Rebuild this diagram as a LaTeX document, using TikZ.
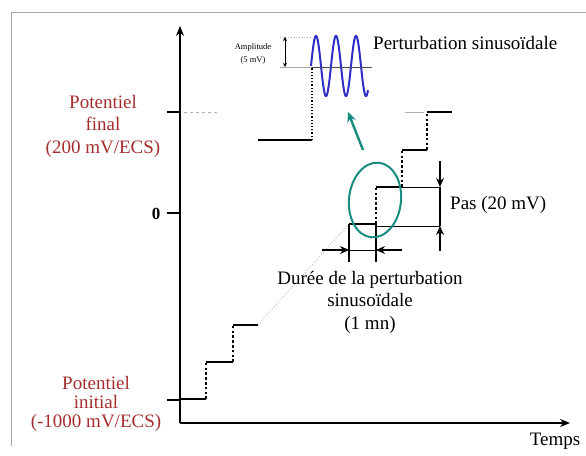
\documentclass[tikz,border=0pt]{standalone}
\usepackage{fontspec}
\setmainfont{Liberation Serif}
\usetikzlibrary{arrows.meta,shapes.geometric}
\definecolor{potred}{RGB}{165,45,45}
\definecolor{tealc}{RGB}{25,140,128}
\definecolor{waveblue}{RGB}{45,45,200}
\begin{document}
\begin{tikzpicture}[x=1pt,y=-1pt,
  lbl/.style={font=\fontsize{19}{22.5}\selectfont, inner sep=0pt, align=center},
  redlbl/.style={lbl, text=potred},
  steph/.style={line width=2.6pt},
  stepv/.style={line width=2.6pt, dash pattern=on 2.6pt off 2.2pt},
  fine/.style={line width=0.7pt},
  ax/.style={line width=1.4pt},
  blackarrow/.style={line width=1.2pt, -{Stealth[length=9pt,width=8pt]}},
]
\useasboundingbox (0,0) rectangle (586,455);
\draw[gray!70, line width=1pt] (11,446) -- (11,12) -- (586,12);

% axes
\coordinate (O) at (180,423);
\coordinate (ytop) at (180,26);
\coordinate (xend) at (570,423);
\draw[ax, -{Stealth[length=10pt,width=8pt]}] (O) -- (ytop);
\draw[ax, -{Stealth[length=10pt,width=8pt]}] (O) -- (xend);
\node[lbl] (temps) at (555,441) {Temps};

% ticks
\coordinate (tiA) at (167,400); \coordinate (tiB) at (180,400);
\coordinate (tzA) at (167,213); \coordinate (tzB) at (180,213);
\coordinate (tfA) at (167,112); \coordinate (tfB) at (180,112);
\draw[ax] (tiA) -- (tiB);
\draw[ax] (tzA) -- (tzB);
\draw[ax] (tfA) -- (tfB);
\node[lbl, font=\fontsize{17}{20}\selectfont\bfseries] (zero) at (156,214) {0};

% labels
\node[redlbl] (pfinal) at (103,126) {Potentiel\\final\\(200 mV/ECS)};
\node[redlbl, font=\fontsize{19}{19}\selectfont] (pinit) at (96,404) {Potentiel\\initial\\(-1000 mV/ECS)};

% lower steps
\coordinate (s0) at (180,399);
\coordinate (s1) at (206,399);
\coordinate (s1u) at (206,362);
\coordinate (s2) at (233,362);
\coordinate (s2u) at (233,325);
\coordinate (s3) at (258,325);
\draw[steph] (s0) -- (s1);
\draw[stepv] (s1) -- (s1u);
\draw[steph] (s1u) -- (s2);
\draw[stepv] (s2) -- (s2u);
\draw[steph] (s2u) -- (s3);

% upper steps
\coordinate (c0) at (349,224);
\coordinate (c1) at (376,224);
\coordinate (c1u) at (376,187);
\coordinate (c2) at (402,187);
\coordinate (c2u) at (402,150);
\coordinate (c3) at (427,150);
\coordinate (c3u) at (427,112);
\coordinate (c4) at (452,112);
\draw[gray!70, fine, dotted] (s3) -- (c0);
\draw[steph] (c0) -- (c1);
\draw[stepv] (c1) -- (c1u);
\draw[steph] (c1u) -- (c2);
\draw[stepv] (c2) -- (c2u);
\draw[steph] (c2u) -- (c3);
\draw[stepv] (c3) -- (c3u);
\draw[steph] (c3u) -- (c4);

% faint guides at final level
\coordinate (gA) at (184,112); \coordinate (gB) at (218,112);
\coordinate (gC) at (405,112); \coordinate (gD) at (424,112);
\draw[gray!60, fine, dashed] (gA) -- (gB);
\draw[gray!60, fine] (gC) -- (gD);

% duration marks
\coordinate (d0b) at (349,262);
\coordinate (d1b) at (376,262);
\coordinate (dL) at (349,250);
\coordinate (dR) at (376,250);
\coordinate (dLs) at (322,250);
\coordinate (dRs) at (402,250);
\draw[line width=1.2pt] (c0) -- (d0b);
\draw[line width=1.2pt] (c1) -- (d1b);
\draw[fine] (dL) -- (dR);
\draw[blackarrow] (dLs) -- (dL);
\draw[blackarrow] (dRs) -- (dR);
\node[lbl] (dur) at (370,302) {Durée de la perturbation\\sinusoïdale\\(1 mn)};

% step size marks
\coordinate (pT) at (440,187);
\coordinate (pB) at (440,226);
\coordinate (pTs) at (440,161);
\coordinate (pBs) at (440,251);
\coordinate (c0r) at (376,226);
\draw[fine] (c2) -- (pT);
\draw[fine] (c0r) -- (pB);
\draw[line width=1.2pt] (pT) -- (pB);
\draw[blackarrow] (pTs) -- (pT);
\draw[blackarrow] (pBs) -- (pB);
\node[lbl, anchor=west] (pas) at (450,205) {Pas (20 mV)};

% zoom ellipse and arrow
\node[draw=tealc, line width=2pt, ellipse, minimum width=52pt, minimum height=75pt, inner sep=0pt, rotate=-6] (zoomell) at (375,200) {};
\coordinate (arrS) at (363,150);
\coordinate (arrE) at (348,112);
\draw[tealc, line width=2.4pt, -{Stealth[length=10pt,width=9pt]}] (arrS) -- (arrE);

% perturbation panel
\coordinate (wA) at (258,140);
\coordinate (wB) at (312,140);
\coordinate (wC) at (312,67);
\coordinate (wD) at (372,67);
\coordinate (amT) at (280,37);
\coordinate (amTe) at (312,37);
\coordinate (amB) at (280,67);
\coordinate (arT) at (285,37);
\coordinate (arB) at (285,67);
\draw[line width=1.8pt] (wA) -- (wB);
\draw[line width=1.2pt, dotted] (wB) -- (wC);
\draw[gray!70, fine, dotted] (amT) -- (amTe);
\draw[gray!70, fine] (amB) -- (wC);
\draw[line width=0.8pt, {Stealth[length=4pt,width=4pt]}-{Stealth[length=4pt,width=4pt]}] (arT) -- (arB);
\draw[waveblue, line width=2pt, domain=0:57, samples=240, smooth] plot ({311+\x}, {66-30*sin(\x/20*360)});
\draw[black!70, line width=0.9pt] (wC) -- (wD);
\node[lbl, font=\fontsize{8.5}{13}\selectfont] (ampl) at (253,54) {Amplitude\\(5 mV)};
\node[lbl, anchor=west] (pert) at (373,43) {Perturbation sinusoïdale};
\end{tikzpicture}
\end{document}
